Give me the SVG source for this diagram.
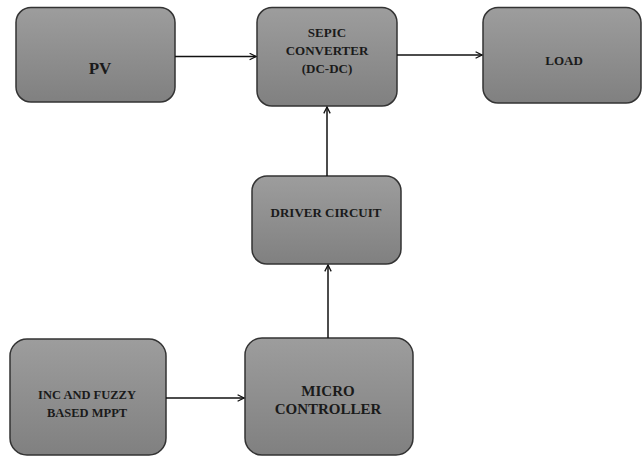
<svg xmlns="http://www.w3.org/2000/svg" width="643" height="457" viewBox="0 0 643 457">
<defs>
<linearGradient id="g" x1="0" y1="0" x2="0" y2="1">
<stop offset="0" stop-color="#9d9d9d"/>
<stop offset="1" stop-color="#808080"/>
</linearGradient>
<marker id="arr" viewBox="0 0 10 10" refX="9" refY="5" markerWidth="8" markerHeight="8" markerUnits="userSpaceOnUse" orient="auto">
<path d="M1,1 L9,5 L1,9" fill="none" stroke="#111" stroke-width="1.6"/>
</marker>
</defs>
<style>
.box{fill:url(#g);stroke:#333;stroke-width:1.5}
.t{font-family:"Liberation Serif","DejaVu Serif",serif;font-weight:bold;fill:#1a1a1a;text-anchor:middle}
.c{stroke:#111;stroke-width:1.5;fill:none;marker-end:url(#arr)}
</style>
<rect width="643" height="457" fill="#fff"/>
<g id="pv">
<rect class="box" x="16" y="7.5" width="159" height="94.5" rx="15"/>
<text class="t" x="100" y="74" font-size="17">PV</text>
</g>
<g id="sepic">
<rect class="box" x="257" y="7.5" width="140" height="98.5" rx="15"/>
<text class="t" x="327" y="37" font-size="13">SEPIC</text>
<text class="t" x="327" y="55" font-size="13">CONVERTER</text>
<text class="t" x="327" y="73" font-size="13">(DC-DC)</text>
</g>
<g id="load">
<rect class="box" x="483" y="7.5" width="158" height="95.5" rx="15"/>
<text class="t" x="564" y="65" font-size="13">LOAD</text>
</g>
<g id="driver">
<rect class="box" x="252" y="176" width="149" height="88" rx="15"/>
<text class="t" x="326" y="217" font-size="13">DRIVER CIRCUIT</text>
</g>
<g id="inc">
<rect class="box" x="10" y="339" width="156" height="116" rx="17"/>
<text class="t" x="87" y="399" font-size="12.5">INC AND FUZZY</text>
<text class="t" x="87" y="417" font-size="12.5">BASED MPPT</text>
</g>
<g id="micro">
<rect class="box" x="245" y="338" width="168" height="117" rx="17"/>
<text class="t" x="328" y="396" font-size="15">MICRO</text>
<text class="t" x="328" y="414" font-size="15">CONTROLLER</text>
</g>
<g id="connectors">
<line class="c" x1="175" y1="56.5" x2="256" y2="56.5"/>
<line class="c" x1="397" y1="55" x2="482" y2="55"/>
<line class="c" x1="327" y1="176" x2="327" y2="107"/>
<line class="c" x1="328" y1="338" x2="328" y2="265"/>
<line class="c" x1="166" y1="398" x2="244" y2="398"/>
</g>
</svg>
